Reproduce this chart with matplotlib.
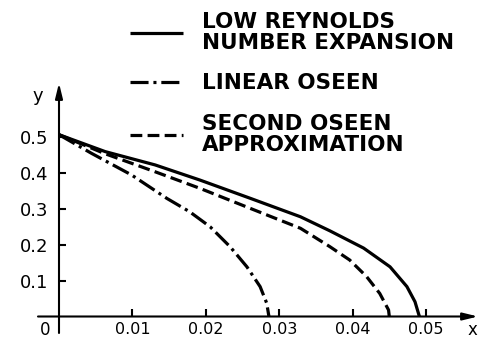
import matplotlib
matplotlib.use("Agg")
import matplotlib.pyplot as plt

plt.rcParams['lines.scale_dashes'] = False
plt.rcParams['font.family'] = ['DejaVu Sans']

# Data
low_re_x = [0.0, 0.0063, 0.0131, 0.0192, 0.0261, 0.0329, 0.0369, 0.0415, 0.0451, 0.0474, 0.0485, 0.0491]
low_re_y = [0.505, 0.458, 0.421, 0.379, 0.328, 0.277, 0.238, 0.190, 0.138, 0.083, 0.041, 0.0]

oseen2_x = [0.0, 0.0063, 0.0131, 0.0192, 0.0261, 0.0329, 0.0369, 0.0396, 0.0419, 0.0437, 0.0449, 0.0450]
oseen2_y = [0.505, 0.452, 0.402, 0.356, 0.300, 0.245, 0.194, 0.157, 0.111, 0.064, 0.018, 0.0]

oseen1_x = [0.0, 0.00445, 0.0099, 0.0147, 0.0178, 0.0206, 0.0233, 0.0256, 0.0274, 0.0283, 0.0286]
oseen1_y = [0.505, 0.453, 0.393, 0.328, 0.291, 0.249, 0.194, 0.138, 0.083, 0.037, 0.0]

labels = ["LOW REYNOLDS\nNUMBER EXPANSION", "LINEAR OSEEN", "SECOND OSEEN\nAPPROXIMATION"]
x_ticks = [0.01, 0.02, 0.03, 0.04, 0.05]
x_ticklabels = ["0.01", "0.02", "0.03", "0.04", "0.05"]
y_ticks = [0.1, 0.2, 0.3, 0.4, 0.5]
y_ticklabels = ["0.1", "0.2", "0.3", "0.4", "0.5"]

W, H = 479, 341
fig = plt.figure(figsize=(W / 100, H / 100), dpi=100)
ax = fig.add_axes([0, 0, 1, 1])

# pixel mapping: x=0 at 59 px, 7340 px per unit; y=0 at 316.5 px (from top), 360 px per unit
x0p, xs = 59.0, 7340.0
y0p, ys = 316.5, 360.0
ax.set_xlim(-x0p / xs, (W - x0p) / xs)
ax.set_ylim(-(H - y0p) / ys, y0p / ys)

lw = 2.3
l1, = ax.plot(low_re_x, low_re_y, color='black', lw=lw, solid_capstyle='butt', solid_joinstyle='round')
l2, = ax.plot(oseen1_x, oseen1_y, color='black', lw=lw, linestyle=(0, (13, 3.5, 2.2, 3.5)))
l3, = ax.plot(oseen2_x, oseen2_y, color='black', lw=lw, linestyle=(0, (8.5, 3.8)))

for s in ['top', 'right']:
    ax.spines[s].set_visible(False)
ax.spines['left'].set_position(('data', 0))
ax.spines['bottom'].set_position(('data', 0))
ax.spines['left'].set_color('none')
ax.spines['bottom'].set_color('none')

# axis lines with arrows
ax.annotate('', xy=(0, 233.5 / ys), xytext=(0, -16.5 / ys),
            arrowprops=dict(arrowstyle='-|>,head_length=0.9,head_width=0.22', color='black', lw=1.5,
                            shrinkA=0, shrinkB=0))
ax.annotate('', xy=(419 / xs, 0), xytext=(-21 / xs, 0),
            arrowprops=dict(arrowstyle='-|>,head_length=0.9,head_width=0.22', color='black', lw=1.5,
                            shrinkA=0, shrinkB=0))

ax.set_xticks(x_ticks)
ax.set_xticklabels(x_ticklabels)
ax.set_yticks(y_ticks)
ax.set_yticklabels(y_ticklabels)
ax.tick_params(axis='x', direction='in', length=6, width=1.5, pad=4, labelsize=11.5)
ax.tick_params(axis='y', direction='in', length=5, width=1.5, pad=8, labelsize=13)

ax.annotate("0", xy=(45 / W, 1 - 330 / H), xycoords='figure fraction', fontsize=12, ha='center', va='center')
ax.annotate("y", xy=(38 / W, 1 - 96 / H), xycoords='figure fraction', fontsize=13, ha='center', va='center')
ax.annotate("x", xy=(472 / W, 1 - 330 / H), xycoords='figure fraction', fontsize=12, ha='center', va='center')

leg = ax.legend([l1, l2, l3], labels, loc='upper left',
                bbox_to_anchor=(130 / W, 1 - 12 / H), bbox_transform=fig.transFigure,
                frameon=False, borderpad=0, borderaxespad=0,
                prop={'size': 15.5, 'weight': 'bold'},
                handlelength=2.45, handletextpad=0.88, labelspacing=0.95)
for t in leg.get_texts():
    t.set_linespacing(1.05)

fig.savefig("out.png", dpi=100)
